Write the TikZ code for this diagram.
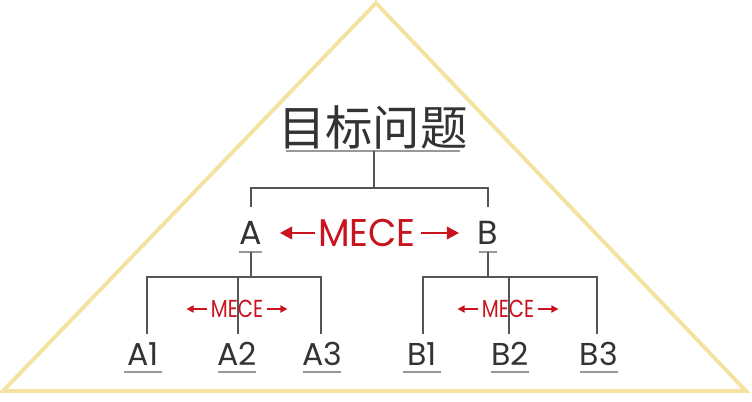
\documentclass[tikz,border=0pt]{standalone}
\usepackage{fontspec}
\usepackage{xcolor}
\usetikzlibrary{arrows.meta}
\newfontfamily\cjk{Noto Sans CJK SC}
\newfontfamily\gothic{Poppins}
\newfontfamily\gothicN[FakeStretch=0.8]{Poppins}
\newfontfamily\gothicM[FakeStretch=0.95]{Poppins}
\definecolor{tri}{HTML}{F4E3A0}
\definecolor{ink}{HTML}{333333}
\definecolor{wire}{HTML}{555555}
\definecolor{rule}{HTML}{999999}
\definecolor{mred}{HTML}{C8141E}

\begin{document}
\begin{tikzpicture}[x=0.02cm,y=-0.02cm,
  wire/.style={draw=wire,line width=0.8pt},
  uline/.style={draw=rule,line width=1.2pt},
  leaf/.style={text=ink,font=\gothic\fontsize{18}{18}\selectfont,inner sep=0pt},
  mbig/.style={text=mred,font=\gothicM\fontsize{22}{22}\selectfont,inner sep=0pt},
  msmall/.style={text=mred,font=\gothicN\fontsize{14}{14}\selectfont,inner sep=0pt},
  rarrow/.style={draw=mred,-{Triangle[length=7pt,width=7pt]},line width=1.6pt},
  sarrow/.style={draw=mred,-{Triangle[length=4pt,width=4pt]},line width=0.9pt}]

\useasboundingbox (0,0) rectangle (752,402);
\fill[white] (0,0) rectangle (752,402);
\draw[tri,line width=2.2pt,line join=miter] (376,3) -- (3,391) -- (746,391) -- cycle;

% 1st tier:
\node[text=ink,font=\cjk\fontsize{27}{27}\selectfont,inner sep=0pt] (goal) at (373,127) {目标问题};
\draw[uline] (286,151) coordinate (g1) -- (460,151) coordinate (g2);
\coordinate (gs) at (374,151);

% 2nd tier:
\node[leaf,font=\gothic\fontsize{19}{19}\selectfont] (A) at (251,233) {A};
\node[leaf,font=\gothic\fontsize{19}{19}\selectfont] (B) at (488,233) {B};
\draw[uline] (239,252) coordinate (a0) -- (262,252);
\draw[uline] (479,252) -- (497,252) coordinate (b0);
\coordinate (as) at (251,252);
\coordinate (bs) at (488,252);

\draw[wire] (gs) -- ++(0,37) coordinate (gh);
\draw[wire] ([yshift=8pt]A.north) |- (gh) -| ([yshift=8pt]B.north);

\node[mbig] (mAB) at (367,233) {MECE};
\draw[rarrow] (mAB.west) ++(-3,0) -- ++(-35,0);
\draw[rarrow] (mAB.east) ++(5,0) -- ++(38,0);

% 3rd tier:
\foreach \n/\x/\l in {a1/143/A1, a2/237/A2, a3/322/A3, b1/422/B1, b2/510/B2, b3/599/B3}{
  \node[leaf] (\n) at (\x,354) {\l};
  \draw[uline] (\x-19,372) -- (\x+19,372);
}

\draw[wire] (as) -- ++(0,25) coordinate (ah);
\draw[wire] (bs) -- ++(0,25) coordinate (bh);
\draw[wire] (147,334) |- (ah) -| (321,334);
\draw[wire] (238,277) -- (238,334);
\draw[wire] (423,334) |- (bh) -| (597,334);
\draw[wire] (509,277) -- (509,334);

\node[msmall] (mA) at (237,309) {MECE};
\draw[sarrow] (mA.west) ++(-3,0) -- ++(-21,0);
\draw[sarrow] (mA.east) ++(3,0) -- ++(21,0);
\node[msmall] (mB) at (508,309) {MECE};
\draw[sarrow] (mB.west) ++(-3,0) -- ++(-21,0);
\draw[sarrow] (mB.east) ++(3,0) -- ++(21,0);

\end{tikzpicture}
\end{document}
